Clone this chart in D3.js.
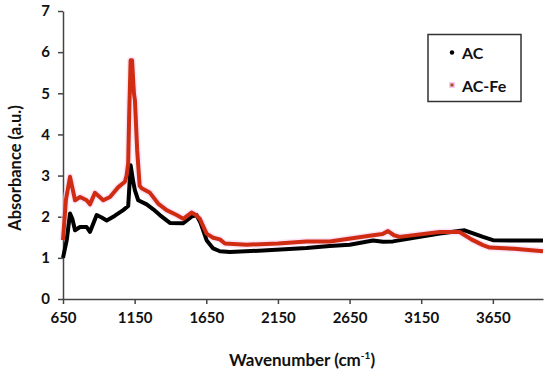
<!DOCTYPE html>
<html lang="en">
<head>
<meta charset="UTF-8">
<title>FTIR AC vs AC-Fe</title>
<script src="https://d3js.org/d3.v7.min.js"></script>
<style>
  body { margin: 0; background: #fff; }
  svg { display: block; font-family: Lato, "Open Sans", sans-serif; font-weight: bold; }
</style>
</head>
<body>
<svg id="chart" width="550" height="374"></svg>
<script>
// wavenumber / absorbance
const acWave = [650, 676, 699, 715, 734, 769, 815, 838, 885, 920, 955, 1010, 1070, 1105, 1122, 1140, 1152, 1175, 1234, 1280, 1326, 1396, 1489, 1547, 1582, 1610, 1652, 1698, 1745, 1815, 2047, 2349, 2512, 2651, 2814, 2884, 2953, 3279, 3453, 3581, 3651, 3800, 4000];
const acAbs  = [1.00, 1.43, 2.08, 1.95, 1.67, 1.75, 1.75, 1.63, 2.04, 1.98, 1.91, 2.02, 2.16, 2.26, 3.25, 2.85, 2.64, 2.40, 2.30, 2.18, 2.04, 1.85, 1.84, 2.00, 2.04, 1.85, 1.43, 1.23, 1.16, 1.14, 1.18, 1.24, 1.29, 1.32, 1.42, 1.39, 1.40, 1.59, 1.67, 1.51, 1.43, 1.42, 1.42];

const feWave = [650, 670, 699, 734, 769, 815, 838, 873, 931, 978, 1036, 1082, 1094, 1105, 1112, 1122, 1132, 1145, 1152, 1168, 1185, 1199, 1257, 1314, 1373, 1443, 1489, 1547, 1575, 1605, 1652, 1698, 1745, 1780, 1931, 2150, 2349, 2512, 2814, 2880, 2918, 2960, 2999, 3279, 3418, 3500, 3581, 3628, 3800, 4000];
const feAbs  = [1.43, 2.40, 2.97, 2.40, 2.48, 2.40, 2.30, 2.58, 2.40, 2.48, 2.72, 2.85, 3.00, 3.30, 4.50, 5.80, 5.80, 5.00, 4.83, 3.60, 2.75, 2.69, 2.58, 2.32, 2.16, 2.04, 1.95, 2.10, 2.05, 1.95, 1.59, 1.49, 1.45, 1.35, 1.32, 1.35, 1.40, 1.40, 1.55, 1.58, 1.65, 1.55, 1.51, 1.63, 1.63, 1.45, 1.31, 1.25, 1.22, 1.16];

const xTicks = [650, 1150, 1650, 2150, 2650, 3150, 3650];
const yTicks = [0, 1, 2, 3, 4, 5, 6, 7];

const svg = d3.select("#chart");
const m = {left: 63, right: 543, top: 11, bottom: 299};

const x = d3.scaleLinear().domain([650, 4000]).range([m.left, m.right]);
const y = d3.scaleLinear().domain([0, 7]).range([m.bottom, m.top]);

// axes
const xAxis = svg.append("g")
  .attr("transform", `translate(0,${m.bottom})`)
  .call(d3.axisBottom(x).tickValues(xTicks).tickFormat(d3.format("d"))
    .tickSize(5).tickPadding(8).tickSizeOuter(0));
const yAxis = svg.append("g")
  .attr("transform", `translate(${m.left},0)`)
  .call(d3.axisLeft(y).tickValues(yTicks).tickFormat(d3.format("d"))
    .tickSize(5).tickPadding(8).tickSizeOuter(0));

[xAxis, yAxis].forEach(g => {
  g.select(".domain").attr("stroke", "#444").attr("stroke-width", 1.5);
  g.selectAll(".tick line").attr("stroke", "#444").attr("stroke-width", 1.5);
  g.selectAll("text").attr("fill", "#111").style("font-size", "15px")
    .style("font-family", "Lato, sans-serif").style("font-weight", "bold");
});

// lines
const line = d3.line().x(d => x(d[0])).y(d => y(d[1]));
const acData = acWave.map((w, i) => [w, acAbs[i]]);
const feData = feWave.map((w, i) => [w, feAbs[i]]);

// faint pink fringe around the red trace (jpeg look of the original)
svg.append("path").datum(feData)
  .attr("d", line).attr("fill", "none")
  .attr("stroke", "#f9d2f4").attr("stroke-width", 7).attr("opacity", 0.6)
  .attr("stroke-linejoin", "round");

svg.append("path").datum(acData)
  .attr("d", line).attr("fill", "none")
  .attr("stroke", "#000").attr("stroke-width", 4).attr("stroke-linejoin", "round");

svg.append("path").datum(feData)
  .attr("d", line).attr("fill", "none")
  .attr("stroke", "#cf2c12").attr("stroke-width", 4).attr("stroke-linejoin", "round");

// axis titles
svg.append("text")
  .attr("transform", "translate(21,168) rotate(-90)")
  .attr("text-anchor", "middle")
  .style("font-size", "16.5px").attr("fill", "#111")
  .text("Absorbance (a.u.)");

const xt = svg.append("text")
  .attr("x", 302).attr("y", 366)
  .attr("text-anchor", "middle")
  .style("font-size", "17px").attr("fill", "#111");
xt.append("tspan").text("Wavenumber (cm");
xt.append("tspan").attr("dy", -7).style("font-size", "10px").text("-1");
xt.append("tspan").attr("dy", 7).text(")");

// legend
const lg = svg.append("g");
lg.append("rect").attr("x", 428).attr("y", 34.5).attr("width", 93).attr("height", 67)
  .attr("fill", "#fff").attr("stroke", "#333").attr("stroke-width", 1.5);
lg.append("circle").attr("cx", 452).attr("cy", 52.5).attr("r", 2.2).attr("fill", "#000");
lg.append("rect").attr("x", 449).attr("y", 82).attr("width", 6).attr("height", 6).attr("fill", "#f8c8f2");
lg.append("rect").attr("x", 450.5).attr("y", 83.5).attr("width", 3).attr("height", 3).attr("fill", "#a0501e");
lg.append("text").attr("x", 462).attr("y", 58.5).style("font-size", "16px").attr("fill", "#111").text("AC");
lg.append("text").attr("x", 462).attr("y", 91.5).style("font-size", "16px").attr("fill", "#111").text("AC-Fe");
</script>
</body>
</html>
